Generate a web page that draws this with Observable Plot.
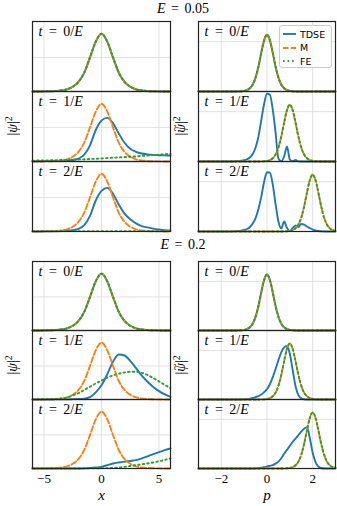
<!DOCTYPE html>
<html><head><meta charset="utf-8">
<script src="https://cdn.jsdelivr.net/npm/d3@7"></script>
<script src="https://cdn.jsdelivr.net/npm/@observablehq/plot@0.6"></script>
<style>
html,body{margin:0;padding:0;background:#fff;}
#fig{position:relative;width:337px;height:506px;overflow:hidden;font-family:"Liberation Serif",serif;color:#000;background:#fff;}
.pw{position:absolute;}
.pw svg{overflow:visible;}
.pw svg, .pw svg text{font-family:"Liberation Serif",serif !important;}
.title{position:absolute;transform:translate(-50%,-50%);font-size:14px;white-space:nowrap;word-spacing:2px;line-height:1;}
.ylab{position:absolute;transform:translate(-50%,-50%) rotate(-90deg);font-size:14px;white-space:nowrap;line-height:1;}
.ylab .sup{font-size:0.7em;position:relative;top:-0.55em;}
.ylab .tl{position:relative;display:inline-block;}
.ylab .tilde{position:absolute;left:0.12em;top:-0.42em;font-style:normal;font-size:0.9em;}
.legend{position:absolute;box-sizing:border-box;border:1px solid #cccccc;border-radius:3px;background:rgba(255,255,255,0.85);font-family:"DejaVu Sans",sans-serif;font-size:9.5px;}
.legend .row{position:absolute;left:3px;height:12px;display:flex;align-items:center;white-space:nowrap;}
.legend .row svg{margin-right:4px;}
svg [aria-label="x-axis label"] text{font-style:italic;font-size:15px;}
</style>
</head><body><div id="fig"></div>
<script>
// ---------- data ----------
const tKeys = ["0", "1", "2"];
const tLabels = ["t = 0/E", "t = 1/E", "t = 2/E"];
const seriesNames = ["TDSE", "M", "FE"];
const fieldTitles = ["E = 0.05", "E = 0.2"];
const xTicks = [-5, 0, 5];
const pTicks = [-2, 0, 2];

const xGrid = [-6,-5.5,-5,-4.5,-4,-3.5,-3,-2.5,-2,-1.5,-1,-0.5,0,0.5,1,1.5,2,2.5,3,3.5,4,4.5,5,5.5,6];
const pGrid = [-3,-2.875,-2.75,-2.625,-2.5,-2.375,-2.25,-2.125,-2,-1.875,-1.75,-1.625,-1.5,-1.375,-1.25,-1.125,-1,-0.875,-0.75,-0.625,-0.5,-0.375,-0.25,-0.125,0,0.125,0.25,0.375,0.5,0.625,0.75,0.875,1,1.125,1.25,1.375,1.5,1.625,1.75,1.875,2,2.125,2.25,2.375,2.5,2.625,2.75,2.875,3];

// position space |psi|^2
const posInit  = [0.0001,0.0003,0.0006,0.0014,0.003,0.006,0.013,0.028,0.057,0.111,0.2,0.293,0.339,0.293,0.2,0.111,0.057,0.028,0.013,0.006,0.003,0.0014,0.0006,0.0003,0.0001];
const posTdseA1 = [0.001,0.001,0.002,0.002,0.003,0.004,0.005,0.009,0.017,0.04,0.095,0.185,0.24,0.256,0.225,0.165,0.11,0.075,0.057,0.047,0.042,0.039,0.037,0.036,0.035];
const posFeA1   = [0.005,0.006,0.006,0.007,0.008,0.009,0.01,0.011,0.012,0.013,0.015,0.016,0.018,0.02,0.022,0.024,0.026,0.028,0.03,0.033,0.035,0.038,0.04,0.043,0.045];
const posTdseA2 = [0,0,0.0005,0.001,0.001,0.002,0.004,0.008,0.016,0.038,0.092,0.182,0.238,0.256,0.222,0.158,0.105,0.072,0.048,0.032,0.024,0.017,0.012,0.008,0.006];
const posFeA2   = [0.002,0.002,0.002,0.002,0.002,0.002,0.002,0.002,0.002,0.002,0.002,0.002,0.002,0.002,0.002,0.002,0.002,0.002,0.002,0.002,0.002,0.002,0.002,0.002,0.002];
const posTdseB1 = [0,0,0,0,0.0005,0.001,0.001,0.002,0.003,0.005,0.014,0.042,0.085,0.15,0.225,0.268,0.262,0.23,0.187,0.142,0.106,0.075,0.05,0.03,0.016];
const posFeB1   = [0.001,0.001,0.002,0.002,0.003,0.006,0.012,0.024,0.038,0.057,0.076,0.096,0.113,0.13,0.144,0.154,0.161,0.165,0.165,0.159,0.146,0.128,0.108,0.087,0.068];
const posTdseB2 = [0,0,0,0,0,0,0,0,0,0.001,0.003,0.006,0.01,0.02,0.03,0.036,0.041,0.045,0.05,0.06,0.072,0.086,0.098,0.109,0.12];
const posFeB2   = [0.001,0.001,0.001,0.001,0.001,0.001,0.001,0.001,0.001,0.001,0.001,0.001,0.002,0.002,0.004,0.006,0.01,0.015,0.02,0.025,0.03,0.036,0.043,0.051,0.06];

// momentum space |psi~|^2
const momInit   = [0,0,0,0,0,0,0,0,0,0,0,0,0.0005,0.001,0.002,0.005,0.012,0.028,0.065,0.14,0.28,0.5,0.78,1.03,1.142,1.03,0.78,0.5,0.28,0.14,0.065,0.028,0.012,0.005,0.002,0.001,0.0005,0,0,0,0,0,0,0,0,0,0,0,0];
const momShift1 = [0,0,0,0,0,0,0,0,0,0,0,0,0,0,0,0,0,0,0,0,0.0005,0.001,0.002,0.005,0.012,0.028,0.065,0.14,0.28,0.5,0.78,1.03,1.142,1.03,0.78,0.5,0.28,0.14,0.065,0.028,0.012,0.005,0.002,0.001,0.0005,0,0,0,0];
const momShift2 = [0,0,0,0,0,0,0,0,0,0,0,0,0,0,0,0,0,0,0,0,0,0,0,0,0,0,0,0,0.0005,0.001,0.002,0.005,0.012,0.028,0.065,0.14,0.28,0.5,0.78,1.03,1.142,1.03,0.78,0.5,0.28,0.14,0.065,0.028,0.012];
const momTdseA1 = [0,0,0,0,0,0,0,0,0,0,0,0,0.002,0.004,0.008,0.015,0.025,0.045,0.08,0.15,0.28,0.5,0.83,1.16,1.36,1.34,1.05,0.58,0.06,0.005,0.1,0.3,0.04,0.005,0.03,0.003,0,0,0,0,0,0,0,0,0,0,0,0,0];
const momTdseA2 = [0,0,0,0,0,0,0,0,0,0,0,0,0.003,0.006,0.01,0.018,0.03,0.05,0.09,0.16,0.27,0.45,0.7,1.0,1.19,1.18,0.95,0.55,0.2,0.06,0.2,0.07,0.01,0.07,0.12,0.09,0.15,0.14,0.1,0.07,0.04,0.02,0.01,0.004,0,0,0,0,0];
const momTdseB1 = [0,0,0,0,0,0,0,0,0,0,0,0,0,0,0.001,0.002,0.004,0.007,0.015,0.03,0.05,0.07,0.1,0.15,0.21,0.31,0.45,0.62,0.8,0.96,1.06,1.09,0.93,0.6,0.27,0.09,0.025,0.005,0,0,0,0,0,0,0,0,0,0,0];
const momTdseB2 = [0,0,0,0,0,0,0,0,0,0,0,0,0,0,0,0,0,0,0,0,0.003,0.007,0.015,0.025,0.04,0.055,0.07,0.1,0.14,0.21,0.3,0.38,0.46,0.54,0.61,0.68,0.75,0.81,0.84,0.62,0.32,0.13,0.04,0.01,0,0,0,0,0];

const colors = {TDSE: "#1f77b4", M: "#ff7f0e", FE: "#2ca02c"};
const dashes = {TDSE: null, M: "5.5,2.4", FE: "1.6,3"};

// ---------- drawing ----------
const fig = document.getElementById("fig");
const serif = '"Liberation Serif",serif';
const fmtTick = d => (d < 0 ? "\u2212" : "") + Math.abs(d);

function panels(o) {
  const data = o.sets.flatMap(s => s.values.map((v, i) => ({t: s.t, series: s.series, x: o.grid[i], y: v})));
  const labels = tKeys.map((k, i) => ({t: k, label: tLabels[i]}));
  const line = name => Plot.line(data.filter(d => d.series === name), {
    x: "x", y: "y", fy: "t", stroke: colors[name], strokeWidth: 1.9, curve: "monotone-x",
    ...(dashes[name] ? {strokeDasharray: dashes[name]} : {})
  });
  const svg = Plot.plot({
    width: o.width, height: o.height,
    marginLeft: o.mL, marginRight: o.mR, marginTop: o.mT, marginBottom: o.mB,
    style: {fontFamily: serif, fontSize: "13px", background: "transparent", color: "#000"},
    x: {domain: o.xDomain, axis: o.axis ? "bottom" : null, ticks: o.ticks, tickFormat: fmtTick, tickSize: 0, tickPadding: 5,
        label: o.label, labelAnchor: "center", labelArrow: "none", labelOffset: 31},
    y: {domain: o.yDomain, axis: null},
    fy: {domain: tKeys, axis: null, padding: 0, paddingInner: 0, paddingOuter: 0},
    marks: [
      Plot.gridX(o.ticks, {stroke: "#d9d9d9", strokeOpacity: 1, strokeWidth: 0.8}),
      Plot.gridY(o.yGrid, {stroke: "#d9d9d9", strokeOpacity: 1, strokeWidth: 0.8}),
      line("TDSE"),
      line("M"),
      line("FE"),
      Plot.text(labels, {fy: "t", text: "label", frameAnchor: "top-left", dx: 6, dy: 5,
        fontSize: 14, fill: "#000"}),
      Plot.frame({stroke: "#222", strokeWidth: 1.2})
    ]
  });
  d3.select(svg).selectAll("text").filter(function() { return /^t = \d\/E$/.test(this.textContent); })
    .each(function() {
      const n = this.textContent.match(/\d/)[0];
      const s = d3.select(this);
      this.textContent = "";
      s.style("word-spacing", "3px");
      s.append("tspan").attr("font-style", "italic").text("t");
      s.append("tspan").text(" = " + n + "/");
      s.append("tspan").attr("font-style", "italic").text("E");
    });
  const w = document.createElement("div");
  w.className = "pw";
  w.style.left = o.left + "px";
  w.style.top = o.top + "px";
  w.appendChild(svg);
  fig.appendChild(w);
}

const leftGeom  = {left: 0,   width: 172, mL: 32, mR: 2, xDomain: [-6, 6], ticks: xTicks, yDomain: [0, 0.411], yGrid: [0.2], grid: xGrid, label: "x"};
const rightGeom = {left: 172, width: 165, mL: 26, mR: 2, xDomain: [-3, 3], ticks: pTicks, yDomain: [0, 1.405], yGrid: [1.0], grid: pGrid, label: "p"};
const topGeom = {top: 0, height: 232, mT: 21, mB: 1, axis: false};
const botGeom = {top: 232, height: 274, mT: 28, mB: 37, axis: true};

const S = (t, series, values) => ({t, series, values});

panels({...leftGeom, ...topGeom, sets: [
  S("0","TDSE",posInit), S("0","M",posInit), S("0","FE",posInit),
  S("1","TDSE",posTdseA1), S("1","M",posInit), S("1","FE",posFeA1),
  S("2","TDSE",posTdseA2), S("2","M",posInit), S("2","FE",posFeA2)]});
panels({...rightGeom, ...topGeom, sets: [
  S("0","TDSE",momInit), S("0","M",momInit), S("0","FE",momInit),
  S("1","TDSE",momTdseA1), S("1","M",momShift1), S("1","FE",momShift1),
  S("2","TDSE",momTdseA2), S("2","M",momShift2), S("2","FE",momShift2)]});
panels({...leftGeom, ...botGeom, sets: [
  S("0","TDSE",posInit), S("0","M",posInit), S("0","FE",posInit),
  S("1","TDSE",posTdseB1), S("1","M",posInit), S("1","FE",posFeB1),
  S("2","TDSE",posTdseB2), S("2","M",posInit), S("2","FE",posFeB2)]});
panels({...rightGeom, ...botGeom, sets: [
  S("0","TDSE",momInit), S("0","M",momInit), S("0","FE",momInit),
  S("1","TDSE",momTdseB1), S("1","M",momShift1), S("1","FE",momShift1),
  S("2","TDSE",momTdseB2), S("2","M",momShift2), S("2","FE",momShift2)]});

// titles
function addDiv(cls, html, x, y) {
  const d = document.createElement("div");
  d.className = cls; d.innerHTML = html;
  d.style.left = x + "px"; d.style.top = y + "px";
  fig.appendChild(d);
  return d;
}
const titleHtml = s => s.replace(/^E/, "<i>E</i>");
addDiv("title", titleHtml(fieldTitles[0]), 183, 9);
addDiv("title", titleHtml(fieldTitles[1]), 183, 245);
// y labels
const psi = '|<i>ψ</i>|<span class="sup">2</span>';
const psiT = '|<span class="tl"><i>ψ</i><span class="tilde">~</span></span>|<span class="sup">2</span>';
addDiv("ylab", psi, 13, 126);
addDiv("ylab", psiT, 181, 126);
addDiv("ylab", psi, 13, 365);
addDiv("ylab", psiT, 181, 365);

// legend
const lg = document.createElement("div");
lg.className = "legend";
Object.assign(lg.style, {left: "279px", top: "25px", width: "53px", height: "43px"});
seriesNames.forEach((name, i) => {
  const r = document.createElement("div");
  r.className = "row";
  r.style.top = (2 + i * 13.5) + "px";
  r.innerHTML = `<svg width="13" height="4"><line x1="0" x2="13" y1="2" y2="2" stroke="${colors[name]}" stroke-width="1.9" ${dashes[name] ? `stroke-dasharray="${dashes[name]}"` : ""}/></svg><span>${name}</span>`;
  lg.appendChild(r);
});
fig.appendChild(lg);
</script></body></html>
